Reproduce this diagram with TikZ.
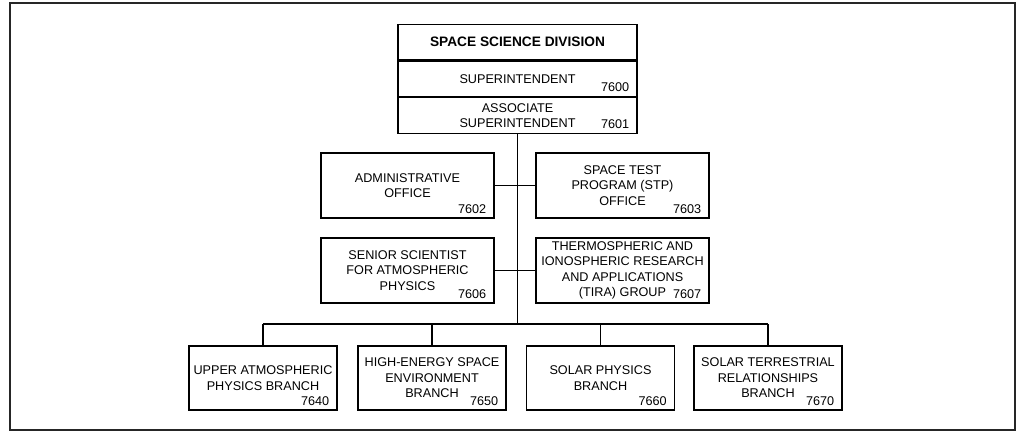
\documentclass[tikz,border=0pt]{standalone}
\usepackage{fontspec}
\setmainfont{Liberation Sans}
\usetikzlibrary{positioning,calc}
\newcommand{\orgfont}{\fontsize{7.2}{8.8}\selectfont}
\tikzset{
  obox/.style={draw,line width=0.7pt,align=center,inner sep=2pt,font=\orgfont},
  otop/.style={obox,minimum width=4.78cm,minimum height=0.71cm},
  ounit/.style={obox,minimum width=3.46cm,minimum height=1.3cm},
  obranch/.style={obox,minimum width=2.96cm,minimum height=1.28cm},
  onum/.style={inner sep=0pt,anchor=south east,font=\orgfont},
  olink/.style={line width=0.6pt},
}

\begin{document}
\begin{tikzpicture}[x=0.02cm,y=-0.02cm]
\useasboundingbox (0,0) rectangle (1018,433);
% outer frame
\draw[line width=1.6pt,black!85] (10,3) rectangle (1015,430);
% head of the division, three stacked rows
\node[otop,font=\bfseries\fontsize{7.8}{9}\selectfont] (div) at (517.5,42) {SPACE SCIENCE DIVISION};
\node[otop,below=0pt of div] (supt) {SUPERINTENDENT};
\node[otop,below=0pt of supt,minimum height=0.72cm] (assoc) {ASSOCIATE\\SUPERINTENDENT};
% staff offices
\node[ounit] (adm) at (407.5,185.5) {ADMINISTRATIVE\\OFFICE};
\node[ounit] (stp) at (622.5,185.5) {SPACE TEST\\PROGRAM (STP)\\OFFICE};
\node[ounit] (sci) at (407.5,270.5) {SENIOR SCIENTIST\\FOR ATMOSPHERIC\\PHYSICS};
\node[ounit] (tira) at (622.5,270.5) {THERMOSPHERIC AND\\IONOSPHERIC RESEARCH\\AND APPLICATIONS\\(TIRA) GROUP};
% branches
\node[obranch] (upa) at (263,378) {UPPER ATMOSPHERIC\\PHYSICS BRANCH};
\node[obranch] (hes) at (432,378) {HIGH-ENERGY SPACE\\ENVIRONMENT\\BRANCH};
\node[obranch] (sol) at (600.5,378) {SOLAR PHYSICS\\BRANCH};
\node[obranch] (str) at (768,378) {SOLAR TERRESTRIAL\\RELATIONSHIPS\\BRANCH};
% code numbers in the lower right corners
\foreach \b/\n in {supt/7600,assoc/7601,adm/7602,stp/7603,sci/7606,tira/7607,upa/7640,hes/7650,sol/7660,str/7670}
  \node[onum] (n\n) at ([shift={(-8,-5)}]\b.south east) {\n};
% lines
\coordinate (bus) at (assoc.south |- 0,324);
\draw[olink] (assoc.south) -- (bus);
\draw[olink] (adm.east) -- (stp.west);
\draw[olink] (sci.east) -- (tira.west);
\draw[olink] (upa.north |- bus) -- (str.north |- bus);
\foreach \b in {upa,hes,sol,str}
  \draw[olink] (\b.north) -- (\b.north |- bus);
\end{tikzpicture}
\end{document}
